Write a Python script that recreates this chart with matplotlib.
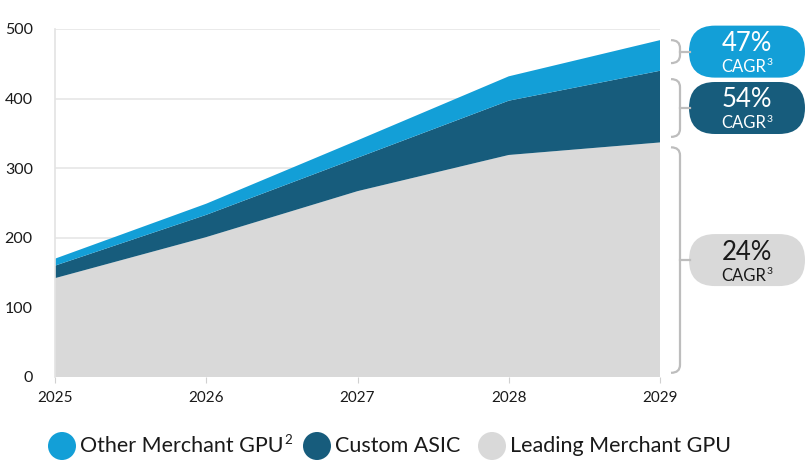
import numpy as np
import matplotlib
matplotlib.use("Agg")
import matplotlib.pyplot as plt
from matplotlib.patches import FancyBboxPatch, Circle, PathPatch
from matplotlib.path import Path

plt.rcParams['font.family'] = ['Lato', 'DejaVu Sans']

# data
years = [2025, 2026, 2027, 2028, 2029]
leading_gpu = [142, 201, 267, 319, 337]
custom_asic = [18, 32, 48, 78, 103]
other_gpu = [10, 16, 25, 35, 44]

series_names = ['Other Merchant GPU', 'Custom ASIC', 'Leading Merchant GPU']
series_notes = ['2', '', '']
series_colors = ['#139FD7', '#175C7C', '#D9D9D9']
cagr_labels = ['47%', '54%', '24%']
# bracket spans at the right edge (data units)
bracket_spans = [(451, 484), (345, 428), (6, 330)]
pill_text_colors = ['white', 'white', '#1a1a1a']

W, H = 810, 466
fig = plt.figure(figsize=(W / 100, H / 100), dpi=100)
ax = fig.add_axes([55 / W, (H - 377) / H, (660 - 55) / W, (377 - 29) / H])

ax.stackplot(years, leading_gpu, custom_asic, other_gpu,
             colors=[series_colors[2], series_colors[1], series_colors[0]],
             linewidth=0, zorder=2)

ax.set_xlim(2025, 2029)
ax.set_ylim(0, 500)
ax.set_xticks(years)
ax.set_yticks(np.arange(0, 501, 100))
ax.grid(axis='y', color='#e6e6e6', linewidth=1.2, zorder=0)
ax.set_axisbelow(True)
for s in ['top', 'right', 'bottom']:
    ax.spines[s].set_visible(False)
ax.spines['left'].set_color('#e3e3e3')
ax.spines['left'].set_linewidth(1.2)
ax.tick_params(axis='y', length=0, pad=16, labelsize=11.5, labelcolor='#1a1a1a')
ax.tick_params(axis='x', length=4, color='#d0d0d0', pad=6, labelsize=11,
               labelcolor='#1a1a1a')

# overlay in pixel coordinates for brackets, pills and legend
ov = fig.add_axes([0, 0, 1, 1], zorder=5)
ov.set_xlim(0, W)
ov.set_ylim(H, 0)
ov.axis('off')

fig.canvas.draw()
renderer = fig.canvas.get_renderer()


def ypix(v):
    return H - ax.transData.transform((2029, v))[1]


def width_of(s, size):
    t = ov.text(0, 0, s, fontsize=size)
    w = t.get_window_extent(renderer).width
    t.remove()
    return w


def sup_text(x, y, base, sup, size, color, center=False):
    wb = width_of(base, size)
    ws = width_of(sup, size * 0.62) if sup else 0
    gap = 0.5
    if center:
        x = x - (wb + ws + gap) / 2
    ov.text(x, y, base, ha='left', va='center', fontsize=size, color=color)
    if sup:
        ov.text(x + wb + gap, y - size * 0.36, sup, ha='left', va='center',
                fontsize=size * 0.62, color=color)


for i in range(3):
    lo, hi = bracket_spans[i]
    yt, yb = ypix(hi), ypix(lo)
    xv, x0, r = 680, 671, 8
    r = min(r, (yb - yt) / 2)
    verts = [(x0, yt), (xv, yt), (xv, yt + r), (xv, yb - r), (xv, yb), (x0, yb)]
    codes = [Path.MOVETO, Path.CURVE3, Path.CURVE3, Path.LINETO, Path.CURVE3, Path.CURVE3]
    ov.add_patch(PathPatch(Path(verts, codes), fill=False, edgecolor='#bdbdbd', lw=1.6))
    ym = (yt + yb) / 2
    ov.plot([xv, 690], [ym, ym], color='#bdbdbd', lw=1.6)
    ov.add_patch(FancyBboxPatch((689, ym - 26), 116, 52,
                                boxstyle='round,pad=0,rounding_size=26',
                                facecolor=series_colors[i], edgecolor='none'))
    ov.text(747, ym - 8, cagr_labels[i], ha='center', va='center',
            fontsize=18.5, color=pill_text_colors[i])
    sup_text(747, ym + 15.5, 'CAGR', '3', 12, pill_text_colors[i], center=True)

# legend
legend_x = [48, 303, 478]
for i in range(3):
    x = legend_x[i]
    ov.add_patch(Circle((x + 14, 446), 14, facecolor=series_colors[i], edgecolor='none'))
    sup_text(x + 32, 446, series_names[i], series_notes[i], 15.5, '#1a1a1a')

fig.savefig('out.png', dpi=100)
